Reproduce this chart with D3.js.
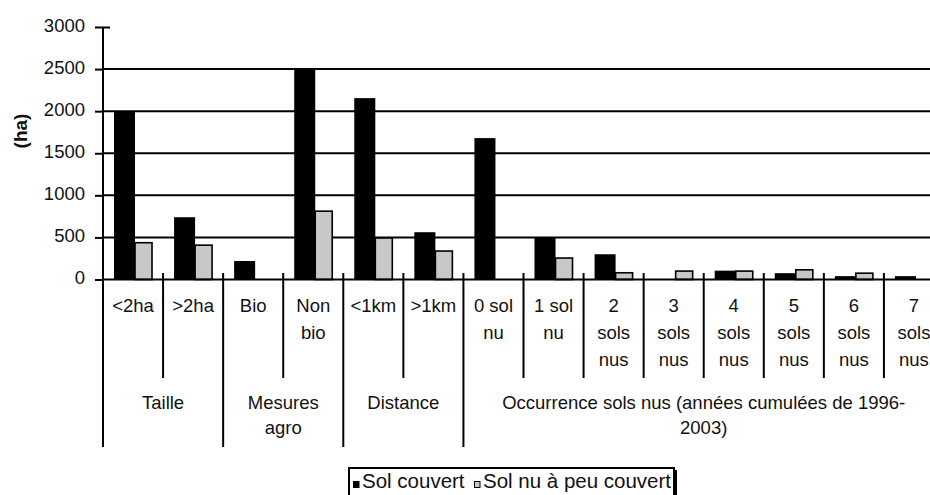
<!DOCTYPE html>
<html>
<head>
<meta charset="utf-8">
<script src="https://cdn.jsdelivr.net/npm/d3@7"></script>
<style>
  body { margin: 0; background: #fff; }
  svg { display: block; overflow: hidden; }
  text { font-family: "Liberation Sans", Arial, sans-serif; fill: #111; }
</style>
</head>
<body>
<svg id="chart"></svg>
<script>
// categories and label lines (bottom axis, first level)
var categories = ["<2ha", ">2ha", "Bio", "Non bio", "<1km", ">1km", "0 sol nu", "1 sol nu",
                  "2 sols nus", "3 sols nus", "4 sols nus", "5 sols nus", "6 sols nus", "7 sols nus"];
var catLines = [["<2ha"], [">2ha"], ["Bio"], ["Non", "bio"], ["<1km"], [">1km"], ["0 sol", "nu"], ["1 sol", "nu"],
                ["2", "sols", "nus"], ["3", "sols", "nus"], ["4", "sols", "nus"], ["5", "sols", "nus"],
                ["6", "sols", "nus"], ["7", "sols", "nus"]];
// second level groups
var groupLines = [["Taille"], ["Mesures", "agro"], ["Distance"], ["Occurrence sols nus (années cumulées de 1996-", "2003)"]];
var groupSizes = [2, 2, 2, 8];
// series (ha)
var solCouvert = [2000, 740, 220, 2500, 2155, 562, 1680, 505, 300, 0, 105, 75, 40, 40];
var solNu      = [437, 408, 0, 812, 493, 338, 0, 255, 80, 100, 100, 115, 75, 0];
var seriesNames = ["Sol couvert", "Sol nu à peu couvert"];
var yTicks = [0, 500, 1000, 1500, 2000, 2500, 3000];

var W = 930, H = 495;
var x0 = 103, x1 = 944, yBot = 279.5, yTop = 27;
var fs = 18.5, legFs = 20.5;

var svg = d3.select("#chart").attr("width", W).attr("height", H);

var x = d3.scaleBand().domain(categories).range([x0, x1]).padding(0);
var y = d3.scaleLinear().domain([0, 3000]).range([yBot, yTop]);
var bw = x.bandwidth();

// gridlines (none at the top value)
svg.append("g").selectAll("line")
  .data(yTicks.filter(function(t) { return t > 0 && t < 3000; }))
  .enter().append("line")
    .attr("x1", x0).attr("x2", W)
    .attr("y1", function(d) { return y(d); }).attr("y2", function(d) { return y(d); })
    .attr("stroke", "#000").attr("stroke-width", 2);

// bars
var blackW = bw * 0.35, greyW = bw * 0.283, off = bw * 0.183;
svg.append("g").selectAll("rect")
  .data(categories.map(function(c, i) { return {c: c, v: solCouvert[i]}; }).filter(function(d) { return d.v > 0; }))
  .enter().append("rect")
    .attr("x", function(d) { return x(d.c) + off; })
    .attr("width", blackW)
    .attr("y", function(d) { return y(d.v); })
    .attr("height", function(d) { return yBot - y(d.v); })
    .attr("fill", "#000");
svg.append("g").selectAll("rect")
  .data(categories.map(function(c, i) { return {c: c, v: solNu[i]}; }).filter(function(d) { return d.v > 0; }))
  .enter().append("rect")
    .attr("x", function(d) { return x(d.c) + off + blackW; })
    .attr("width", greyW)
    .attr("y", function(d) { return y(d.v); })
    .attr("height", function(d) { return yBot - y(d.v); })
    .attr("fill", "#c8c8c8").attr("stroke", "#000").attr("stroke-width", 1.6);

// y axis
var yAxis = svg.append("g")
  .attr("transform", "translate(" + x0 + ",0)")
  .call(d3.axisLeft(y).tickValues(yTicks).tickFormat(d3.format("d")).tickSize(8).tickPadding(10));
yAxis.select(".domain").remove();
yAxis.selectAll(".tick line").attr("stroke", "#000").attr("stroke-width", 2).attr("x2", 0).attr("x1", -8);
yAxis.selectAll(".tick").filter(function(d) { return d === 3000; }).select("line").attr("x2", 7);
yAxis.selectAll("text").style("font-size", fs + "px").style("font-family", "Liberation Sans, Arial, sans-serif")
  .attr("fill", "#111").attr("dy", "0.22em");
svg.append("line").attr("x1", x0).attr("x2", x0).attr("y1", yTop).attr("y2", 447)
  .attr("stroke", "#000").attr("stroke-width", 2);

svg.append("text")
  .attr("transform", "translate(27,131) rotate(-90)")
  .attr("text-anchor", "middle")
  .style("font-size", "19px").style("font-weight", "bold")
  .text("(ha)");

// x axis line
svg.append("line").attr("x1", x0).attr("x2", x1).attr("y1", yBot).attr("y2", yBot)
  .attr("stroke", "#000").attr("stroke-width", 2);

// separators between categories
var groupEnds = [];
var acc = 0;
groupSizes.forEach(function(n) { acc += n; groupEnds.push(acc); });
svg.append("g").selectAll("line")
  .data(d3.range(1, categories.length + 1))
  .enter().append("line")
    .attr("x1", function(i) { return x0 + i * bw; }).attr("x2", function(i) { return x0 + i * bw; })
    .attr("y1", 273)
    .attr("y2", function(i) { return groupEnds.indexOf(i) >= 0 ? 447 : 378; })
    .attr("stroke", "#000").attr("stroke-width", 2);

// category labels
var catG = svg.append("g").selectAll("text")
  .data(categories.map(function(c, i) { return {c: c, lines: catLines[i]}; }))
  .enter().append("text")
    .attr("text-anchor", "middle")
    .style("font-size", fs + "px");
catG.selectAll("tspan")
  .data(function(d) { return d.lines.map(function(l) { return {c: d.c, l: l}; }); })
  .enter().append("tspan")
    .attr("x", function(d) { return x(d.c) + bw / 2; })
    .attr("y", function(d, j) { return 312 + j * 27; })
    .text(function(d) { return d.l; });

// group labels
var gStart = 0;
groupLines.forEach(function(lines, gi) {
  var a = x0 + gStart * bw, b = x0 + (gStart + groupSizes[gi]) * bw;
  gStart += groupSizes[gi];
  var t = svg.append("text").attr("text-anchor", "middle").style("font-size", fs + "px");
  lines.forEach(function(l, j) {
    t.append("tspan").attr("x", (a + b) / 2).attr("y", 409 + j * 25).text(l);
  });
});

// legend
var leg = svg.append("g");
leg.append("rect").attr("x", 349).attr("y", 468).attr("width", 325).attr("height", 40)
  .attr("fill", "#fff").attr("stroke", "#000").attr("stroke-width", 2);
leg.append("line").attr("x1", 676).attr("x2", 676).attr("y1", 470).attr("y2", 510).attr("stroke", "#000").attr("stroke-width", 2);
var legX = [353, 474];
seriesNames.forEach(function(n, i) {
  leg.append("rect").attr("x", legX[i] + 0.5).attr("y", 481.5).attr("width", 5.5).attr("height", 6)
    .attr("fill", i === 0 ? "#000" : "#c8c8c8").attr("stroke", "#000").attr("stroke-width", 1);
  leg.append("text").attr("x", legX[i] + 9).attr("y", 488).style("font-size", legFs + "px").text(n);
});
</script>
</body>
</html>
